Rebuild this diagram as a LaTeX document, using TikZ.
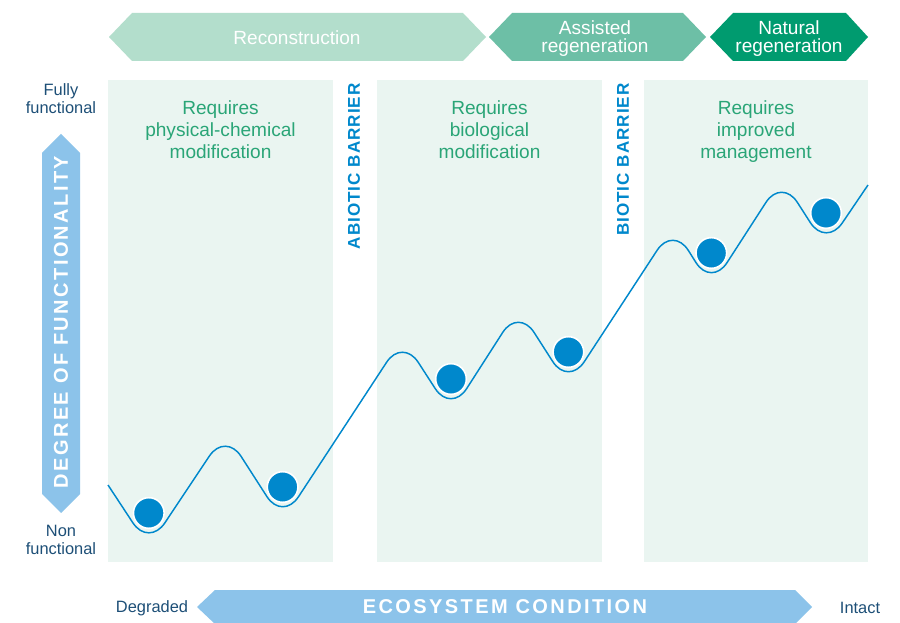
\documentclass[tikz,border=0pt]{standalone}
\usepackage{fontspec}
\setmainfont{Liberation Sans}
\newfontfamily\barrierfont[LetterSpace=6]{Liberation Sans}
\newfontfamily\spacedfont[LetterSpace=12]{Liberation Sans}

\definecolor{recon}{HTML}{B3DECC}
\definecolor{assist}{HTML}{6DBFA6}
\definecolor{natural}{HTML}{009B6F}
\definecolor{panelbg}{HTML}{EAF5F1}
\definecolor{reqgreen}{HTML}{2AA577}
\definecolor{curveblue}{HTML}{0088CC}
\definecolor{axisblue}{HTML}{8CC3EA}
\definecolor{labelblue}{HTML}{1D4F77}

\begin{document}
\begin{tikzpicture}[x=0.75pt,y=-0.75pt,
  phase/.style={text=white, font=\fontsize{14.3}{13.5}\selectfont, align=center},
  panel/.style={fill=panelbg},
  req/.style={text=reqgreen, font=\fontsize{14.3}{16.5}\selectfont, align=center, anchor=north},
  barrier/.style={text=curveblue, font=\barrierfont\bfseries\fontsize{12.8}{12}\selectfont, rotate=90, anchor=east, inner sep=0pt},
  endlabel/.style={text=labelblue, font=\fontsize{12.3}{13.5}\selectfont, align=center},
  axislabel/.style={text=white, font=\spacedfont\bfseries\fontsize{15}{15}\selectfont},
  ball/.style={circle, fill=curveblue, draw=white, line width=1.2pt, minimum size=23pt, inner sep=0pt},
  landscape/.style={draw=curveblue, line width=1.1pt, rounded corners=21.75pt}]

\fill[white] (0,0) rectangle (900,623);
\useasboundingbox (0,0) rectangle (900,623);

%draw shaded panels
\foreach \xa/\xb in {108/333,377/602,644/868}
	{
	\fill[panel] (\xa,80) rectangle (\xb,562);
	}

%label panels
\node[req] (req1) at (220.5,96) {Requires\\physical-chemical\\modification};
\node[req] (req2) at (489.5,96) {Requires\\biological\\modification};
\node[req] (req3) at (756,96) {Requires\\improved\\management};

%label barriers
\node[barrier] (abiotic) at (354,83) {ABIOTIC BARRIER};
\node[barrier] (biotic) at (623,83) {BIOTIC BARRIER};

%draw phase arrows
\fill[recon] (109,37) -- (132,13) -- (463,13) -- (486,37) -- (463,61) -- (132,61) -- cycle;
\fill[assist] (489,37) -- (512,13) -- (683,13) -- (706,37) -- (683,61) -- (512,61) -- cycle;
\fill[natural] (710,37) -- (733,13) -- (846,13) -- (868,37) -- (846,61) -- (733,61) -- cycle;
\node[phase] (reconlabel) at (297,38) {Reconstruction};
\node[phase] (assistlabel) at (595,38.5) {Assisted\\regeneration};
\node[phase] (naturallabel) at (789,38.5) {Natural\\regeneration};

%draw landscape
\draw[landscape] (108,485) -- (148.8,547) -- (225.4,432) -- (282.6,521) -- (402.5,338) -- (451,413)
	-- (518.4,308) -- (568.4,386) -- (673,226) -- (711.3,287) -- (781.7,178) -- (826,247) -- (868,185);

%draw balls in valleys
\foreach \bx/\by [count=\i] in {148.8/513,282.6/487,451/379,568.4/352,711.3/253,826/213}
	{
	\node[ball] (ball\i) at (\bx,\by) {};
	}

%draw axes
\fill[axisblue] (61,134) -- (80,153) -- (80,494) -- (61,513) -- (42,494) -- (42,153) -- cycle;
\fill[axisblue] (197,607) -- (215,590) -- (795,590) -- (812,607) -- (795,624) -- (215,624) -- cycle;
\node[axislabel, rotate=90] (funclabel) at (61,322) {DEGREE OF FUNCTIONALITY};
\node[axislabel] (condlabel) at (505,607) {ECOSYSTEM CONDITION};

%label axis ends
\node[endlabel] (fully) at (61,98.5) {Fully\\functional};
\node[endlabel] (nonfunc) at (61,540) {Non\\functional};
\node[endlabel] (degraded) at (152,608) {Degraded};
\node[endlabel] (intact) at (860,608) {Intact};

\end{tikzpicture}
\end{document}
